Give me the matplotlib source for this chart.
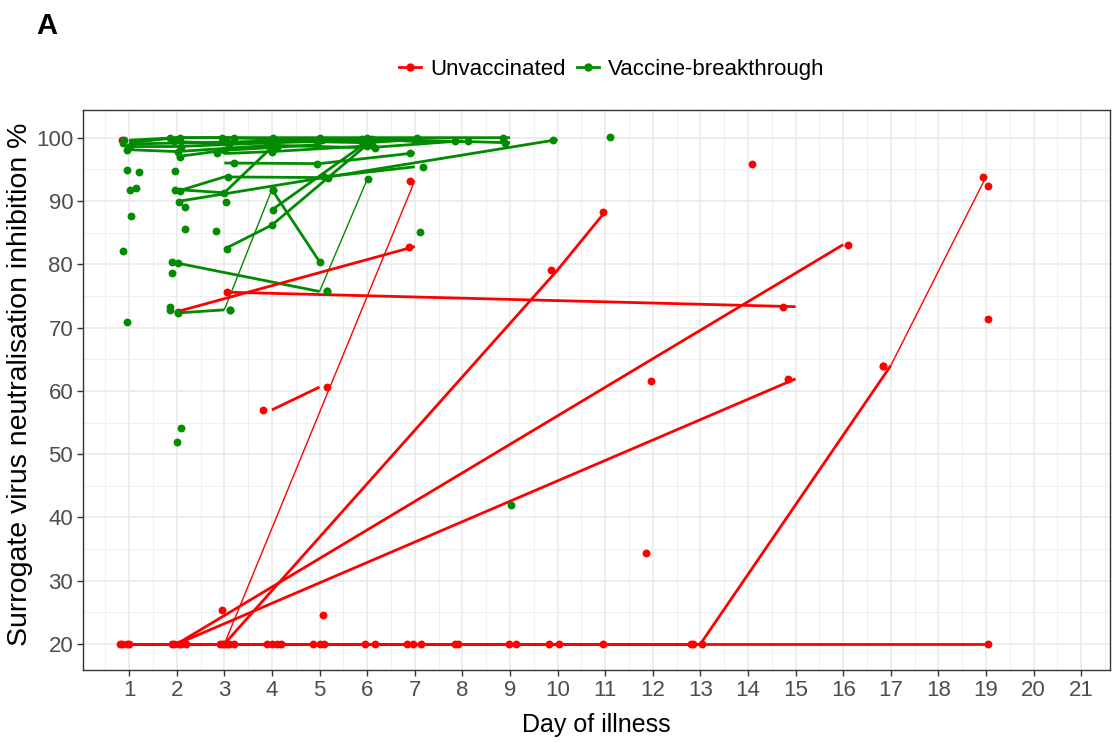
import numpy as np
import matplotlib
matplotlib.use("Agg")
import matplotlib.pyplot as plt
from matplotlib.lines import Line2D
from matplotlib.ticker import MultipleLocator

# ---------------- data ----------------
# Unvaccinated: patient id, day of illness (as plotted), inhibition %
unvax_id = [1]*13 + [2, 2] + [3, 3] + [4, 4] + [5, 5] + [6, 6] + [7, 7, 7] + [8, 8] + [9, 9] + [10, 10] \
    + [11]*5 + [12]*10 + [13]*5 + [14, 15, 16, 17, 18, 19, 20, 21]
unvax_day = [0.85, 1.95, 3.05, 3.9, 5.0, 6.17, 6.97, 7.9, 9.13, 10.03, 10.96, 13.04, 19.05,
             12.85, 16.84,
             16.84, 18.94,
             2.1, 16.1,
             2.05, 14.85,
             3.1, 6.9,
             2.95, 9.87, 10.96,
             2.03, 6.88,
             3.06, 14.74,
             3.82, 5.16,
             0.95, 1.9, 2.9, 4.1, 4.87,
             0.8, 2.2, 3.2, 4.2, 5.96, 6.84, 7.85, 8.98, 9.82, 12.8,
             1.0, 3.0, 4.0, 5.1, 7.13,
             2.95, 5.08, 11.86, 11.97, 14.09, 19.05, 19.05, 0.85]
unvax_val = [20]*13 + [20, 64.0] + [64.0, 93.8] + [20, 83.1] + [20, 61.9] + [20, 93.2] \
    + [20, 79.1, 88.3] + [72.5, 82.8] + [75.6, 73.3] + [57.0, 60.6] \
    + [20]*5 + [20]*10 + [20]*5 \
    + [25.4, 24.6, 34.4, 61.6, 95.9, 92.4, 71.4, 99.7]
unvax_thin_ids = [3, 6]

# Vaccine-breakthrough
vax_id = [1]*8 + [2]*7 + [3]*5 + [4]*4 + [5]*4 + [6]*5 + [7]*3 + [8]*3 + [9]*3 + [10]*4 \
    + [11]*2 + [12]*3 + [13]*3 + [14]*2 + [15]*2 + [16]*2 + [17]*2 + [18]*2 + [19]*2 \
    + list(range(20, 42))
vax_day = [0.9, 1.86, 2.95, 4.03, 5.0, 6.0, 7.05, 8.86,
           0.87, 2.07, 3.2, 5.05, 6.1, 7.07, 8.12,
           0.96, 2.03, 3.9, 6.17, 7.85,
           1.0, 2.1, 4.05, 5.95,
           1.05, 3.05, 5.9, 8.9,
           1.95, 3.1, 4.1, 6.05, 7.0,
           2.07, 3.0, 4.95,
           2.85, 4.0, 6.0,
           3.2, 4.95, 6.9,
           2.07, 3.08, 5.18, 7.18,
           2.05, 9.9,
           1.97, 3.0, 4.1,
           3.06, 4.0, 6.1,
           4.03, 5.9,
           2.03, 3.12,
           3.12, 4.03,
           4.03, 5.01,
           2.03, 5.16,
           5.16, 6.02,
           0.96, 1.21, 1.97, 1.02, 1.15, 1.04, 0.87, 0.96, 2.18, 2.18, 2.83,
           3.04, 1.9, 1.9, 1.86, 1.86, 2.09, 2.01, 11.1, 9.03, 7.1, 5.08]
vax_val = [99.6, 100, 100, 100, 100, 100, 100, 100,
           99.2, 100, 100, 99.6, 99.8, 99.4, 99.4,
           98.1, 97.8, 98.8, 98.4, 99.5,
           98.6, 98.6, 99.2, 99.6,
           99.0, 99.3, 99.8, 99.2,
           99.4, 99.0, 99.5, 99.2, 99.7,
           97.0, 98.0, 98.9,
           97.5, 97.8, 98.7,
           96.0, 95.9, 97.6,
           91.5, 93.8, 93.7, 95.4,
           89.9, 99.7,
           91.8, 91.3, 98.5,
           82.4, 86.2, 98.9,
           88.6, 99.3,
           72.3, 72.8,
           72.8, 91.8,
           91.8, 80.4,
           80.2, 75.7,
           75.7, 93.4,
           94.9, 94.6, 94.8, 91.8, 92.0, 87.7, 82.1, 70.9, 89.1, 85.5, 85.3,
           89.9, 80.4, 78.6, 73.3, 72.8, 54.2, 51.9, 100.1, 42.0, 85.1, 93.9]
vax_thin_ids = [16, 19]

x_ticks = list(range(1, 22))
y_ticks = [20, 30, 40, 50, 60, 70, 80, 90, 100]

RED = "#FF0000"
GREEN = "#008B00"

# ---------------- figure ----------------
plt.rcParams['font.family'] = ['Liberation Sans', 'DejaVu Sans']
fig = plt.figure(figsize=(11.12, 7.42), dpi=100)
ax = fig.add_axes([0.0746, 0.097, 0.9234, 0.755])


def draw_lines(ids, days, vals, thin_ids, color, z):
    ids = np.asarray(ids)
    days = np.asarray(days, dtype=float)
    vals = np.asarray(vals, dtype=float)
    for pid in np.unique(ids):
        m = ids == pid
        if m.sum() < 2:
            continue
        d = np.round(days[m])
        v = vals[m]
        o = np.argsort(d, kind="stable")
        lw = 1.0 if pid in thin_ids else 2.0
        ax.plot(d[o], v[o], color=color, lw=lw, solid_capstyle="butt", zorder=z)


draw_lines(vax_id, vax_day, vax_val, vax_thin_ids, GREEN, 3)
draw_lines(unvax_id, unvax_day, unvax_val, unvax_thin_ids, RED, 4)
ax.scatter(unvax_day, unvax_val, s=32, color=RED, linewidths=0, zorder=5)
ax.scatter(vax_day, vax_val, s=32, color=GREEN, linewidths=0, zorder=6)

ax.set_xlim(0.03, 21.6)
ax.set_ylim(15.9, 104.4)
ax.set_xticks(x_ticks)
ax.set_yticks(y_ticks)
ax.xaxis.set_minor_locator(MultipleLocator(0.5))
ax.yaxis.set_minor_locator(MultipleLocator(5))
ax.grid(which="major", color="#E8E8E8", lw=1.1, zorder=0)
ax.grid(which="minor", color="#EFEFEF", lw=0.7, zorder=0)
ax.set_axisbelow(True)
ax.tick_params(which="minor", length=0)
ax.tick_params(which="major", length=4, width=1, color="#333333",
               labelsize=16, labelcolor="#4D4D4D", pad=3)
for s in ax.spines.values():
    s.set_color("#333333")
    s.set_linewidth(1.0)

ax.set_xlabel("Day of illness", fontsize=18, color="black", labelpad=9)
ax.set_ylabel("Surrogate virus neutralisation inhibition %", fontsize=20.5, color="black")
ax.yaxis.set_label_coords(-0.049, 0.51)

handles = [Line2D([0], [0], color=RED, lw=2, marker="o", markersize=5),
           Line2D([0], [0], color=GREEN, lw=2, marker="o", markersize=5)]
fig.legend(handles, ["Unvaccinated", "Vaccine-breakthrough"], loc="center",
           bbox_to_anchor=(0.55, 0.907), ncol=2, frameon=False, fontsize=16,
           handlelength=1.0, handletextpad=0.4, columnspacing=0.5)

fig.text(0.033, 0.965, "A", fontsize=21, fontweight="bold", ha="left", va="center")

fig.savefig("out.png", dpi=100)
